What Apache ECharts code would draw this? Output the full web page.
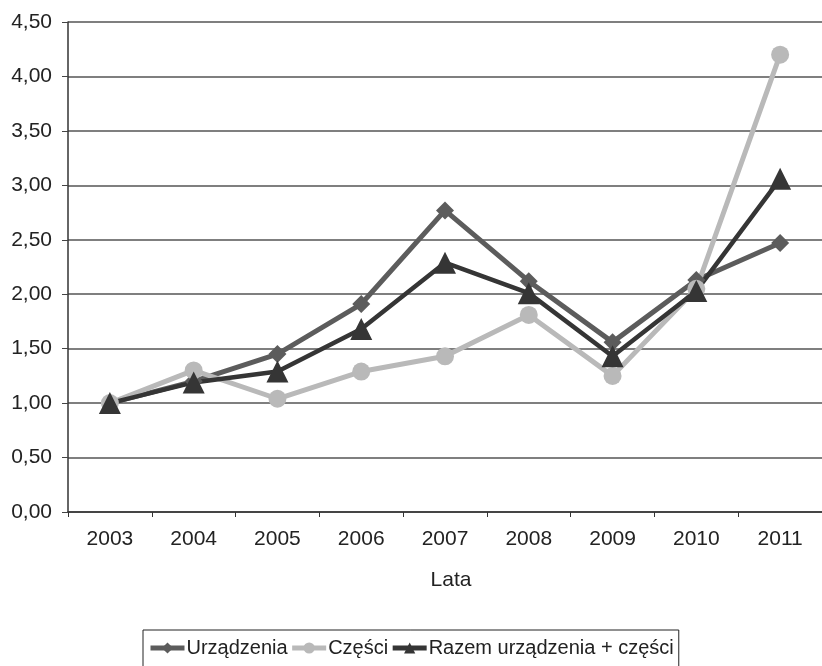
<!DOCTYPE html>
<html>
<head>
<meta charset="utf-8">
<script src="https://cdn.jsdelivr.net/npm/echarts@6/dist/echarts.min.js"></script>
<style>
  html, body { margin: 0; padding: 0; background: #ffffff; }
  #chart { width: 822px; height: 666px; }
</style>
</head>
<body>
<div id="chart"></div>
<script>
// Lata (years)
var years = ['2003', '2004', '2005', '2006', '2007', '2008', '2009', '2010', '2011'];

// Indices, 2003 = 1,00
var urzadzenia = [1.00, 1.20, 1.45, 1.91, 2.77, 2.12, 1.56, 2.13, 2.47];
var czesci     = [1.00, 1.30, 1.04, 1.29, 1.43, 1.81, 1.25, 2.05, 4.20];
var razem      = [1.00, 1.19, 1.29, 1.68, 2.29, 2.01, 1.43, 2.03, 3.06];

var seriesNames = ['Urządzenia', 'Części', 'Razem urządzenia + części'];
var seriesColors = ['#5c5c5c', '#b9b9b9', '#353535'];

var font = 'Liberation Sans, Arial, sans-serif';

var chart = echarts.init(document.getElementById('chart'), null, { renderer: 'canvas' });

chart.setOption({
  animation: false,
  backgroundColor: '#ffffff',
  textStyle: { fontFamily: font },
  grid: { left: 68, top: 22, width: 765, height: 490 },
  legend: {
    left: 143,
    top: 630,
    data: seriesNames.map(function (n, i) {
      return { name: n, lineStyle: { width: 5, color: seriesColors[i] } };
    }),
    orient: 'horizontal',
    itemWidth: 34,
    itemHeight: 14,
    itemGap: 2,
    padding: [8, 5, 9, 5],
    borderColor: '#222',
    borderWidth: 1,
    textStyle: { fontFamily: font, fontSize: 20, color: '#222', padding: [0, 0, 0, -3] }
  },
  xAxis: {
    type: 'category',
    data: years,
    boundaryGap: true,
    name: 'Lata',
    nameLocation: 'middle',
    nameGap: 58,
    nameTextStyle: { fontFamily: font, fontSize: 21, color: '#222', padding: [0, 0, 0, 12] },
    axisLine: { lineStyle: { color: '#333', width: 1.5 } },
    axisTick: { show: true, length: 5, alignWithLabel: false, lineStyle: { color: '#333' } },
    axisLabel: { fontFamily: font, fontSize: 21, color: '#222', margin: 17 },
    splitLine: { show: false }
  },
  yAxis: {
    type: 'value',
    min: 0,
    max: 4.5,
    interval: 0.5,
    axisLine: { show: true, lineStyle: { color: '#333', width: 1.5 } },
    axisTick: { show: true, length: 6, lineStyle: { color: '#444' } },
    axisLabel: {
      fontFamily: font,
      fontSize: 21,
      color: '#222',
      margin: 16,
      formatter: function (v) { return v.toFixed(2).replace('.', ','); }
    },
    splitLine: { show: true, lineStyle: { color: '#555', width: 1.5 } }
  },
  series: [
    {
      name: seriesNames[0],
      type: 'line',
      data: urzadzenia,
      symbol: 'diamond',
      symbolSize: 18,
      showAllSymbol: true,
      itemStyle: { color: seriesColors[0] },
      lineStyle: { color: seriesColors[0], width: 5 }
    },
    {
      name: seriesNames[1],
      type: 'line',
      data: czesci,
      symbol: 'circle',
      symbolSize: 18,
      showAllSymbol: true,
      itemStyle: { color: seriesColors[1] },
      lineStyle: { color: seriesColors[1], width: 5 }
    },
    {
      name: seriesNames[2],
      type: 'line',
      data: razem,
      symbol: 'triangle',
      symbolSize: 22,
      showAllSymbol: true,
      itemStyle: { color: seriesColors[2] },
      lineStyle: { color: seriesColors[2], width: 4.5 }
    }
  ]
});
</script>
</body>
</html>
